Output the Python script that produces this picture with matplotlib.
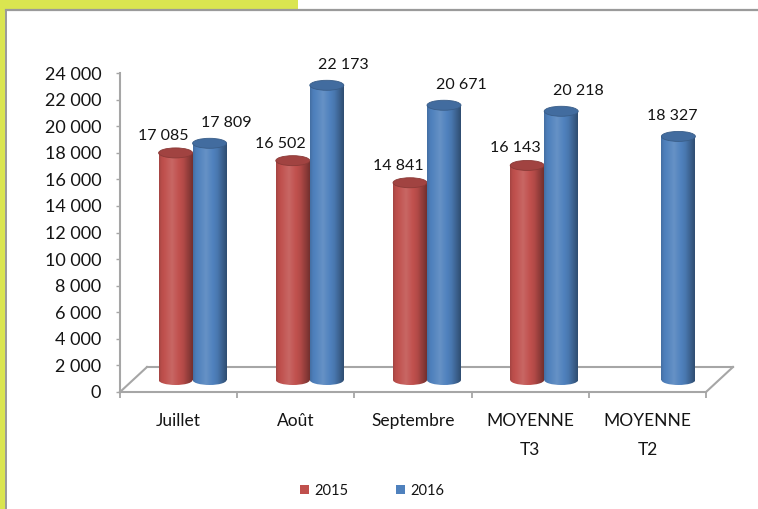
import numpy as np
import matplotlib
matplotlib.use("Agg")
import matplotlib.pyplot as plt
from matplotlib.patches import Ellipse, Rectangle, Patch
from matplotlib.lines import Line2D
from matplotlib.ticker import FuncFormatter, FixedLocator

plt.rcParams['font.family'] = ['Lato', 'DejaVu Sans']

# ---------------- data ----------------
categories = ['Juillet', 'Août', 'Septembre', 'MOYENNE\nT3', 'MOYENNE\nT2']
series_names = ['2015', '2016']
values_2015 = [17085, 16502, 14841, 16143, None]
values_2016 = [17809, 22173, 20671, 20218, 18327]
y_ticks = list(range(0, 24001, 2000))

red = '#C0504D'
blue = '#4F81BD'
yellow = '#DAE550'
grey = '#A6A6A6'
text_c = '#141414'

W, H = 758, 509
fig = plt.figure(figsize=(W / 100, H / 100), dpi=100)
fig.patch.set_facecolor('white')


def frac(left, top, right, bottom):
    return [left / W, 1 - bottom / H, (right - left) / W, (bottom - top) / H]


# decorations: yellow band and grey frame
fig.patches.append(Rectangle((0, 1 - 9 / H), 298 / W, 9 / H, transform=fig.transFigure,
                             facecolor=yellow, edgecolor='none', zorder=0))
fig.patches.append(Rectangle((0, 0), 5.5 / W, 1, transform=fig.transFigure,
                             facecolor=yellow, edgecolor='none', zorder=0))
fig.add_artist(Line2D([6 / W, 1], [1 - 10 / H, 1 - 10 / H], transform=fig.transFigure,
                      color='#9A9A9A', lw=1.6))
fig.add_artist(Line2D([6.3 / W, 6.3 / W], [0, 1 - 10 / H], transform=fig.transFigure,
                      color='#9A9A9A', lw=1.4))

# ---------------- main (front) axes ----------------
AX_L, AX_R, AX_T, AX_B = 120, 706, 73, 392
ax = fig.add_axes(frac(AX_L, AX_T, AX_R, AX_B))
ax.set_facecolor('none')
ax.set_xlim(-0.5, len(categories) - 0.5)
ax.set_ylim(0, 24000)
for s in ['top', 'right']:
    ax.spines[s].set_visible(False)
for s in ['left', 'bottom']:
    ax.spines[s].set_color(grey)
    ax.spines[s].set_linewidth(1.5)

ax.yaxis.set_major_locator(FixedLocator(y_ticks))
ax.yaxis.set_major_formatter(FuncFormatter(lambda v, p: f"{int(v):,}".replace(",", " ")))
ax.tick_params(axis='y', length=3, width=1, color=grey, pad=10.5, labelsize=13,
               labelcolor=text_c)

ax.set_xticks(range(len(categories)))
ax.set_xticklabels(categories, fontsize=12.5, color=text_c, linespacing=2.05, va='top')
ax.tick_params(axis='x', which='major', length=0, pad=15)
ax.set_xticks(np.arange(-0.5, len(categories), 1.0), minor=True)
ax.tick_params(axis='x', which='minor', length=4, width=1.3, color=grey, direction='out')

# floor (back edge and diagonals)
DX, DY = 27, 25
aw, ah = AX_R - AX_L, AX_B - AX_T
fl = dict(color=grey, lw=1.5, clip_on=False, transform=ax.transAxes, zorder=1)
ax.plot([DX / aw, 1 + DX / aw], [DY / ah, DY / ah], **fl)
ax.plot([0, DX / aw], [0, DY / ah], **fl)
ax.plot([1, 1 + DX / aw], [0, DY / ah], **fl)

# ---------------- bar (middle depth) axes ----------------
OX, OY = 14, 12
YMIN = -2000
ppu = (AX_B - AX_T) / 24000.0
bax = fig.add_axes(frac(AX_L + OX, AX_T - OY, AX_R + OX,
                        AX_B - OY - YMIN * ppu))
bax.set_facecolor('none')
bax.axis('off')
XL = (-0.5, len(categories) - 0.5)
YL = (YMIN, 24000)

bw = 0.29
eh = 10 / ppu  # ellipse height in data units (10 px)
t = np.linspace(0, 1, 80)
prof = np.interp(t, [0, 0.08, 0.38, 0.72, 1.0], [0.86, 0.97, 1.13, 0.93, 0.60])


def gradient(color):
    rgb = np.array(matplotlib.colors.to_rgb(color))
    out = np.empty((1, len(t), 3))
    for i, f in enumerate(prof):
        out[0, i] = rgb + (1 - rgb) * (f - 1) if f >= 1 else rgb * f
    return np.clip(out, 0, 1)


def top_color(color, f=0.84):
    rgb = np.array(matplotlib.colors.to_rgb(color))
    return tuple(rgb * f)


x = np.arange(len(categories))
series = [(values_2015, red, -bw / 2, 2), (values_2016, blue, bw / 2, 3)]
for vals, col, off, z in series:
    xs = [xi + off for xi, v in zip(x, vals) if v is not None]
    hs = [v for v in vals if v is not None]
    bars = bax.bar(xs, hs, width=bw, facecolor='none', edgecolor='none', zorder=z)
    g = gradient(col)
    for rect, xc, v in zip(bars.patches, xs, hs):
        x0, x1 = xc - bw / 2, xc + bw / 2
        im = bax.imshow(g, extent=[x0, x1, 0, v], aspect='auto', zorder=z,
                        interpolation='bilinear')
        im.set_clip_path(rect)
        bot = Ellipse((xc, 0), bw, eh, facecolor='none', edgecolor='none')
        bax.add_patch(bot)
        im2 = bax.imshow(g, extent=[x0, x1, -eh / 2, eh / 2], aspect='auto', zorder=z,
                         interpolation='bilinear')
        im2.set_clip_path(bot)
        bax.add_patch(Ellipse((xc, v), bw, eh, facecolor=top_color(col),
                              edgecolor=top_color(col, 0.72), lw=0.6, zorder=z + 0.1))

# value labels
for i in range(len(categories)):
    v15, v16 = values_2015[i], values_2016[i]
    if v15 is not None:
        bax.annotate(f"{v15:,}".replace(",", " "), (x[i] - bw / 2, v15),
                     xytext=(-12 * 0.72, 17 * 0.72), textcoords='offset points',
                     ha='center', va='center', fontsize=11.5, color=text_c, zorder=5)
    if v16 is not None:
        dx = 17 if v15 is not None else -6
        bax.annotate(f"{v16:,}".replace(",", " "), (x[i] + bw / 2, v16),
                     xytext=(dx * 0.72, 20 * 0.72), textcoords='offset points',
                     ha='center', va='center', fontsize=11.5, color=text_c, zorder=5)

bax.set_xlim(*XL)
bax.set_ylim(*YL)
bax.set_aspect('auto')

# legend
handles = [Patch(facecolor=red, edgecolor='none'), Patch(facecolor=blue, edgecolor='none')]
fig.legend(handles, series_names, loc='center', bbox_to_anchor=(372 / W, 1 - 491 / H),
           ncol=2, frameon=False, fontsize=10.5, handlelength=0.6, handleheight=0.6,
           handletextpad=0.35, columnspacing=3.3, labelcolor=text_c)

fig.savefig('out.png', dpi=100, facecolor='white')
